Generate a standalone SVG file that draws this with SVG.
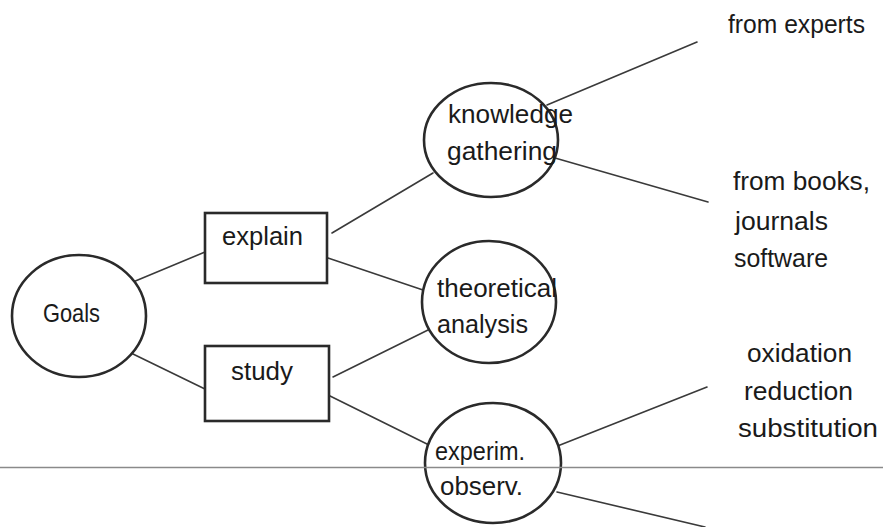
<svg xmlns="http://www.w3.org/2000/svg" width="883" height="527" viewBox="0 0 883 527">
<style>
text{font-family:"Liberation Sans",Arial,sans-serif;font-size:25px;fill:#1a1a1a}
.shape{fill:#fff;stroke:#2a2a2a;stroke-width:2.6}
.conn{stroke:#3a3a3a;stroke-width:1.6;fill:none;stroke-linecap:round}
.rule{stroke:#8a8a8a;stroke-width:1.6}
</style>
<rect width="883" height="527" fill="#fff"/>
<g id="connectors">
<line class="conn" x1="133" y1="282" x2="205" y2="252"/>
<line class="conn" x1="133" y1="354" x2="207" y2="390"/>
<line class="conn" x1="332" y1="233" x2="433" y2="173"/>
<line class="conn" x1="328" y1="258" x2="423" y2="290"/>
<line class="conn" x1="333" y1="377" x2="428" y2="330"/>
<line class="conn" x1="328" y1="395" x2="433" y2="447"/>
<line class="conn" x1="547" y1="105" x2="697" y2="42"/>
<line class="conn" x1="555" y1="158" x2="708" y2="202"/>
<line class="conn" x1="555" y1="447" x2="707" y2="387"/>
<line class="conn" x1="557" y1="492" x2="705" y2="527"/>
</g>
<g id="goals">
<ellipse class="shape" cx="79" cy="316" rx="67" ry="61"/>
<text x="43" y="322" textLength="57" lengthAdjust="spacingAndGlyphs">Goals</text>
</g>
<g id="explain">
<rect class="shape" x="205" y="213" width="122" height="70"/>
<text x="222" y="245" textLength="81" lengthAdjust="spacingAndGlyphs">explain</text>
</g>
<g id="study">
<rect class="shape" x="205" y="346" width="124" height="75"/>
<text x="231" y="380" textLength="62" lengthAdjust="spacingAndGlyphs">study</text>
</g>
<g id="knowledge">
<ellipse class="shape" cx="491" cy="140" rx="67" ry="57"/>
<text x="448" y="123" textLength="125" lengthAdjust="spacingAndGlyphs">knowledge</text>
<text x="447" y="160" textLength="110" lengthAdjust="spacingAndGlyphs">gathering</text>
</g>
<g id="theoretical">
<ellipse class="shape" cx="489" cy="302" rx="67" ry="61"/>
<text x="437" y="297" textLength="120" lengthAdjust="spacingAndGlyphs">theoretical</text>
<text x="437" y="333" textLength="91" lengthAdjust="spacingAndGlyphs">analysis</text>
</g>
<g id="experim">
<ellipse class="shape" cx="493" cy="463" rx="68" ry="60"/>
<text x="435" y="460" textLength="90" lengthAdjust="spacingAndGlyphs">experim.</text>
<text x="440" y="495" textLength="83" lengthAdjust="spacingAndGlyphs">observ.</text>
</g>
<g id="experts">
<text x="728" y="33" textLength="137" lengthAdjust="spacingAndGlyphs">from experts</text>
</g>
<g id="books">
<text x="733" y="190" textLength="137" lengthAdjust="spacingAndGlyphs">from books,</text>
<text x="735" y="230" textLength="93" lengthAdjust="spacingAndGlyphs">journals</text>
<text x="734" y="267" textLength="94" lengthAdjust="spacingAndGlyphs">software</text>
</g>
<g id="reactions">
<text x="747" y="362" textLength="105" lengthAdjust="spacingAndGlyphs">oxidation</text>
<text x="744" y="400" textLength="109" lengthAdjust="spacingAndGlyphs">reduction</text>
<text x="738" y="437" textLength="140" lengthAdjust="spacingAndGlyphs">substitution</text>
</g>
<line class="rule" x1="0" y1="467.5" x2="883" y2="467.5"/>
</svg>
